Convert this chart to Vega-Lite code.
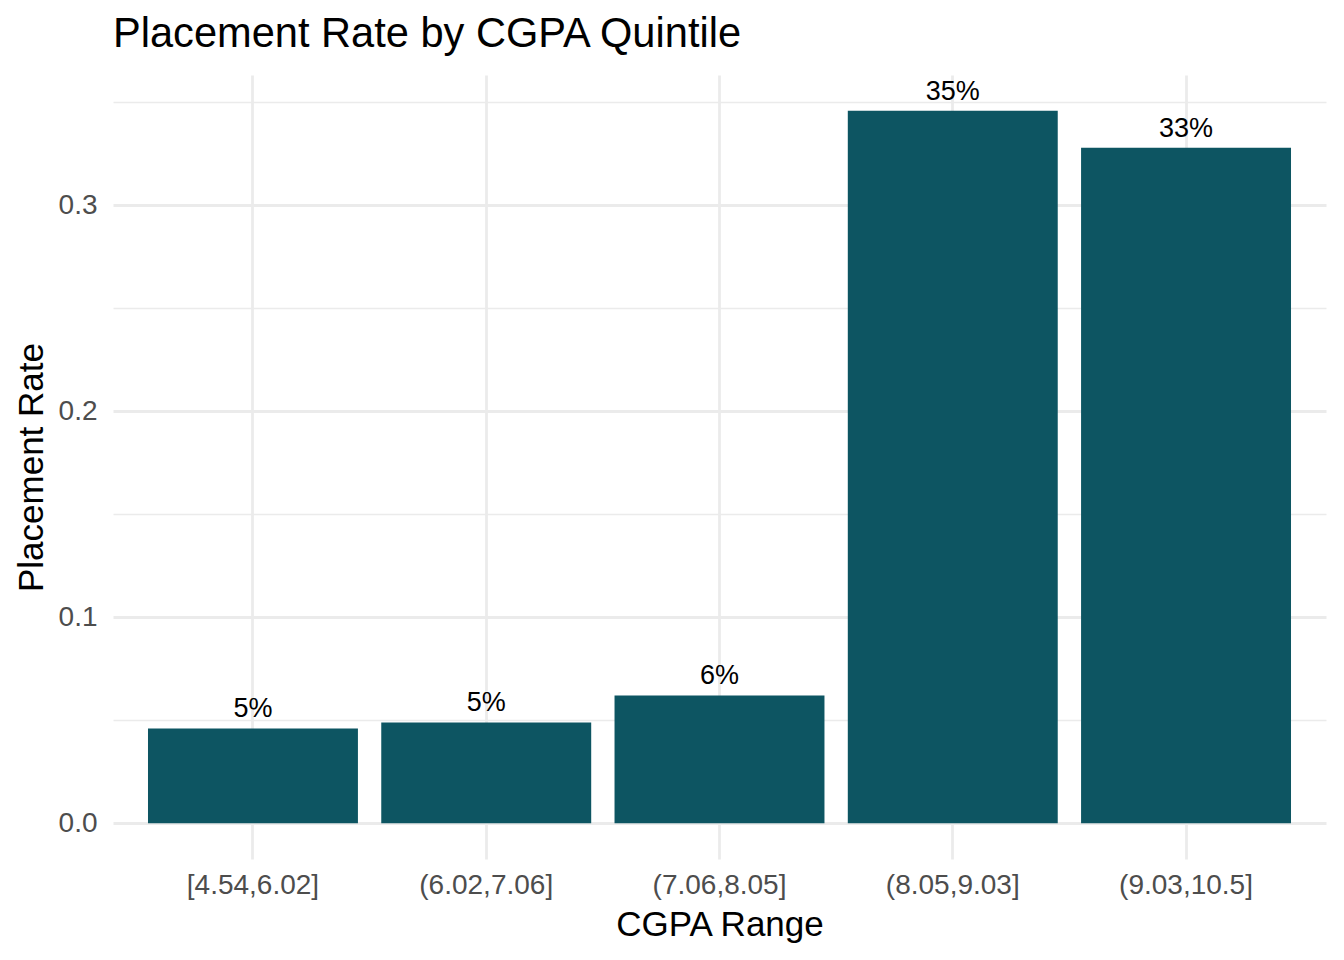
{
  "$schema": "https://vega.github.io/schema/vega-lite/v6.json",
  "background": "white",
  "width": 1213,
  "height": 784,
  "autosize": {"type": "none"},
  "padding": {"left": 113, "top": 75, "right": 18, "bottom": 101},
  "title": {
    "text": "Placement Rate by CGPA Quintile",
    "anchor": "start",
    "frame": "group",
    "baseline": "alphabetic",
    "offset": -14,
    "font": "Liberation Sans",
    "fontSize": 41.6,
    "fontWeight": "normal",
    "color": "black"
  },
  "data": {
    "values": [
      {"range": "[4.54,6.02]", "rate": 0.0461},
      {"range": "(6.02,7.06]", "rate": 0.049},
      {"range": "(7.06,8.05]", "rate": 0.0621},
      {"range": "(8.05,9.03]", "rate": 0.346},
      {"range": "(9.03,10.5]", "rate": 0.328}
    ]
  },
  "encoding": {
    "x": {
      "field": "range",
      "type": "nominal",
      "sort": null,
      "title": "CGPA Range",
      "scale": {"paddingInner": 0.1, "paddingOuter": 0.15},
      "axis": {
        "labelAngle": 0,
        "grid": true,
        "bandPosition": 0.5,
        "gridColor": "#EBEBEB",
        "gridWidth": 2.8,
        "ticks": false,
        "domain": false,
        "labelPadding": 12,
        "titlePadding": 8
      }
    },
    "y": {
      "field": "rate",
      "type": "quantitative",
      "title": "Placement Rate",
      "scale": {"domain": [-0.0173, 0.3633], "nice": false, "zero": false},
      "axis": {
        "values": [0, 0.05, 0.1, 0.15, 0.2, 0.25, 0.3, 0.35],
        "labelExpr": "round(datum.value * 20) % 2 == 0 ? format(datum.value, '.1f') : ''",
        "grid": true,
        "gridColor": "#EBEBEB",
        "gridWidth": {"condition": {"test": "round(datum.value * 20) % 2 == 0", "value": 2.8}, "value": 1.4},
        "ticks": false,
        "domain": false,
        "labelPadding": 16,
        "titlePadding": 9
      }
    }
  },
  "layer": [
    {
      "mark": {"type": "bar", "color": "#0D5562"},
      "encoding": {"y2": {"datum": 0}}
    },
    {
      "mark": {
        "type": "text",
        "font": "Liberation Sans",
        "fontSize": 27,
        "color": "black",
        "baseline": "alphabetic",
        "dy": -11
      },
      "encoding": {"text": {"field": "rate", "type": "quantitative", "format": ".0%"}}
    }
  ],
  "config": {
    "view": {"stroke": null},
    "axis": {
      "labelFont": "Liberation Sans",
      "labelFontSize": 28,
      "labelColor": "#4D4D4D",
      "titleFont": "Liberation Sans",
      "titleFontSize": 35,
      "titleFontWeight": "normal",
      "titleColor": "black"
    }
  }
}
